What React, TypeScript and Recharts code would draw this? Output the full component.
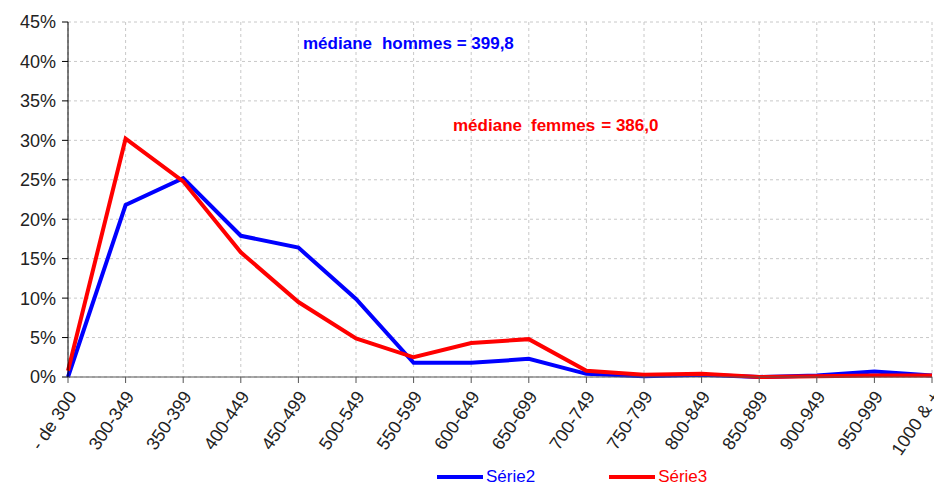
import { LineChart, Line, XAxis, YAxis, CartesianGrid } from "recharts";

const categories = ["- de 300", "300-349", "350-399", "400-449", "450-499", "500-549", "550-599", "600-649", "650-699", "700-749", "750-799", "800-849", "850-899", "900-949", "950-999", "1000 & +"];
const serie2 = [0, 21.8, 25.2, 17.9, 16.4, 9.9, 1.8, 1.8, 2.3, 0.4, 0.1, 0.3, 0, 0.2, 0.7, 0.2];
const serie3 = [0.8, 30.2, 24.8, 15.8, 9.5, 4.9, 2.5, 4.3, 4.8, 0.8, 0.3, 0.4, 0, 0.1, 0.2, 0.2];
const yTicks = [0, 5, 10, 15, 20, 25, 30, 35, 40, 45];

const data = categories.map((c, i) => ({ cat: c, s2: serie2[i], s3: serie3[i] }));

const FONT = "Liberation Sans, Arial, sans-serif";

const XTick = ({ x, y, payload }: any) => (
  <g transform={`translate(${x + 4},${y + 8})`}>
    <text x={0} y={0} dy="0.35em" textAnchor="end" transform="rotate(-56)" fontSize={18} fontFamily={FONT} fill="#222">
      {payload.value}
    </text>
  </g>
);

const note = { position: "absolute" as const, fontFamily: FONT, fontWeight: 700, fontSize: 17, whiteSpace: "pre" as const, lineHeight: 1 };

export default function App() {
  return (
    <div style={{ position: "relative", width: 934, height: 483, background: "#fff", overflow: "hidden" }}>
      <style>{"body{margin:0;overflow:hidden}"}</style>
      <LineChart width={934} height={483} data={data} margin={{ top: 22, right: 2, bottom: 16, left: 0 }}>
        <CartesianGrid strokeDasharray="3 3" stroke="#c8c8c8" />
        <XAxis dataKey="cat" height={90} interval={0} tick={<XTick />} tickSize={6} stroke="#555" />
        <YAxis
          width={68}
          domain={[0, 45]}
          ticks={yTicks}
          tickFormatter={(v: number) => `${v}%`}
          tick={{ fontSize: 18, fontFamily: FONT, fill: "#222" }}
          tickSize={6}
          tickMargin={6}
          stroke="#000"
        />
        <Line dataKey="s2" name="Série2" stroke="#0000ff" strokeWidth={4} dot={false} isAnimationActive={false} />
        <Line dataKey="s3" name="Série3" stroke="#ff0000" strokeWidth={4} dot={false} isAnimationActive={false} />
      </LineChart>
      <div style={{ ...note, left: 303, top: 35, color: "#0000ff" }}>
        médiane<span style={{ marginLeft: 10 }}>hommes</span> = 399,8
      </div>
      <div style={{ ...note, left: 453, top: 117, color: "#ff0000" }}>
        médiane<span style={{ marginLeft: 9 }}>femmes</span><span style={{ marginLeft: 6 }}>= 386,0</span>
      </div>
      <div style={{ position: "absolute", left: 437, top: 470, height: 13, fontFamily: FONT, fontSize: 17, lineHeight: "13px", display: "flex", alignItems: "center" }}>
        <span style={{ display: "inline-block", width: 46, height: 4, background: "#0000ff", marginRight: 3 }} />
        <span style={{ color: "#0000ff" }}>Série2</span>
        <span style={{ display: "inline-block", width: 46, height: 4, background: "#ff0000", marginLeft: 74, marginRight: 3 }} />
        <span style={{ color: "#ff0000" }}>Série3</span>
      </div>
    </div>
  );
}
